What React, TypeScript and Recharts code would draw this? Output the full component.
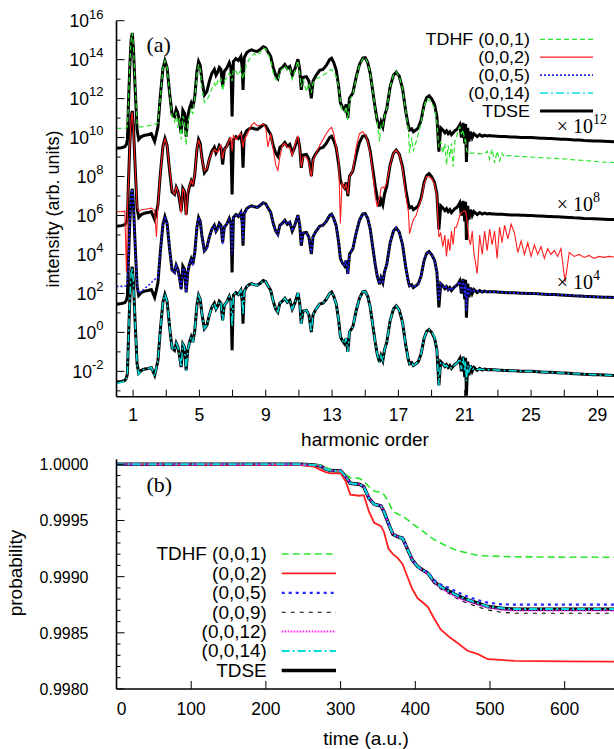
import React from 'react';
import { LineChart, Line, XAxis, YAxis, Legend } from 'recharts';

const SANS = '"Liberation Sans", Arial, Helvetica, sans-serif';
const SERIF = '"Liberation Serif", "Times New Roman", Times, serif';

// ---------------- panel (a): harmonic spectra (log10 of intensity, before offset) ----------------
const harm = [
  0, 0.3, 0.5, 0.6, 0.66, 0.72, 0.8, 0.88, 0.95, 1.02,
  1.12, 1.24, 1.34, 1.5, 1.7, 1.9, 2.1, 2.3, 2.41, 2.5,
  2.65, 2.8, 2.92, 3.05, 3.2, 3.35, 3.5, 3.6, 3.7, 3.8,
  3.9, 4.0, 4.1, 4.2, 4.3, 4.4, 4.5, 4.6, 4.72, 4.85,
  4.95, 5.05, 5.15, 5.3, 5.45, 5.6, 5.75, 5.9, 6.0, 6.1,
  6.2, 6.3, 6.4, 6.5, 6.65, 6.8, 6.9, 6.97, 7.05, 7.2,
  7.35, 7.5, 7.58, 7.63, 7.7, 7.85, 8.0, 8.15, 8.3, 8.5,
  8.7, 8.85, 9.0, 9.13, 9.3, 9.45, 9.6, 9.73, 9.85, 10.0,
  10.15, 10.3, 10.45, 10.6, 10.75, 10.94, 11.05, 11.14, 11.25, 11.45,
  11.6, 11.75, 11.85, 12.0, 12.25, 12.45, 12.65, 12.85, 12.97, 13.1,
  13.25, 13.4, 13.5, 13.6, 13.75, 13.85, 13.95, 14.05, 14.25, 14.45,
  14.65, 14.85, 15.0, 15.15, 15.3, 15.45, 15.6, 15.72, 15.86, 15.95,
  16.06, 16.16, 16.3, 16.5, 16.7, 16.87, 17.05, 17.25, 17.45, 17.6,
  17.67, 17.8, 17.9, 18.07, 18.2, 18.37, 18.55, 18.7, 18.85, 19.0,
  19.18, 19.32, 19.44, 19.55, 19.68, 19.8, 19.9, 20.0, 20.1, 20.2,
  20.3, 20.4, 20.5, 20.6, 20.7, 20.8, 20.9, 21.0, 21.05, 21.1,
  21.18, 21.25, 21.35, 21.45, 21.55, 21.75, 21.9, 22.05, 22.2, 22.35,
  22.5, 22.65, 22.8, 22.95, 23.1, 23.25, 23.4, 23.6, 23.8, 24.0,
  24.2, 24.4, 24.6, 24.8, 25.0, 25.2, 25.4, 25.6, 25.8, 26.0,
  26.2, 26.4, 26.6, 26.8, 27.05, 27.3, 27.6, 27.9, 28.2, 28.5,
  28.8, 29.1, 29.4, 29.7, 30.0,
];

const tdseLog = [
  -2.55, -2.52, -2.47, -2.35, -2.1, -0.3, 1.6, 3.0, 3.37, 2.6,
  0.6, -1.6, -2.1, -1.95, -1.88, -1.85, -1.8, -2.2, -1.8, -1.44,
  0.2, 1.55, 1.95, 1.6, 0.3, -0.8, -0.92, -0.55, -0.75, -1.2,
  -1.78, -0.6, -0.75, -1.95, -0.9, -0.5, -0.24, -0.5, 0.1, 1.4,
  1.9, 1.7, 0.96, 0.19, 0.36, 0.9, 1.3, 1.5, 1.2, 1.35,
  1.6, 1.5, 0.62, 1.4, 1.56, 1.85, 1.6, -0.92, 1.9, 2.05,
  1.95, 2.16, 1.6, 0.45, 2.1, 2.35, 2.45, 2.5, 2.45, 2.42,
  2.55, 2.66, 2.6, 2.4, 2.16, 1.6, 1.2, 1.04, 1.5, 1.6,
  1.75, 1.55, 1.65, 1.2, 1.5, 2.02, 1.5, 0.45, 1.1, 1.13,
  0.9, 0.02, 0.9, 1.15, 1.45, 1.5, 1.7, 2.0, 2.07, 1.85,
  1.47, 0.6, -0.2, -0.4, -0.58, -0.3, -1.0, 0.02, 0.28, 1.1,
  1.75, 2.08, 2.1, 1.85, 1.3, 0.4, -0.5, -1.1, -1.53, -1.2,
  -1.45, -0.9, -0.5, 0.6, 1.2, 1.36, 1.15, 0.5, -0.7, -1.4,
  -1.61, -1.55, -1.7, -1.6, -1.5, -1.1, -0.3, 0.05, 0.15, 0.0,
  -0.3, -0.9, -2.72, -1.5, -1.61, -1.75, -1.65, -1.8, -1.7, -1.85,
  -1.75, -1.65, -1.6, -1.5, -1.35, -2.0, -1.25, -2.3, -1.3, -3.25,
  -1.5, -2.2, -1.7, -2.0, -1.8, -1.95, -1.85, -1.93, -1.88, -1.92,
  -1.9, -1.92, -1.92, -1.93, -1.94, -1.94, -1.95, -1.96, -1.97, -1.97,
  -1.98, -1.99, -1.99, -2.0, -2.0, -2.01, -2.02, -2.03, -2.04, -2.05,
  -2.05, -2.06, -2.07, -2.08, -2.09, -2.1, -2.12, -2.13, -2.15, -2.16,
  -2.17, -2.18, -2.19, -2.2, -2.21,
];

const tdhf1Log = [
  -1.53, -1.53, -1.52, -1.5, -1.4, -0.2, 1.7, 3.0, 3.38, 2.7,
  0.8, -1.3, -1.45, -1.45, -1.42, -1.4, -1.36, -1.31, -1.3, -1.25,
  0.1, 1.55, 1.95, 1.6, 0.3, -0.9, -1.2, -0.7, -1.5, -1.0,
  -2.1, -0.9, -1.1, -2.4, -1.2, -0.9, -0.5, -0.8, 0.0, 1.2,
  1.75, 1.5, 0.5, -0.2, -0.1, 0.2, 0.5, 0.8, 0.6, 0.9,
  0.8, 1.0, 0.4, 0.9, 1.1, 1.3, 1.2, 0.9, 1.5, 1.4,
  1.2, 1.5, 1.1, 1.0, 1.3, 1.8, 2.0, 2.2, 2.3, 2.2,
  2.4, 2.6, 2.55, 2.3, 2.0, 1.3, 1.0, 0.9, 1.4, 1.5,
  1.7, 1.5, 1.6, 1.0, 1.4, 1.95, 1.3, 0.6, 1.0, 0.35,
  0.8, 0.3, 0.8, 1.0, 1.1, 1.2, 1.3, 1.45, 1.5, 1.35,
  1.12, 0.6, -0.1, -0.6, -0.7, -0.4, -1.1, -0.1, 0.2, 1.05,
  1.7, 2.05, 2.1, 1.85, 1.3, 0.4, -0.5, -1.2, -2.2, -1.3,
  -1.4, -0.9, -0.5, 0.6, 1.2, 1.38, 1.15, 0.5, -0.7, -1.6,
  -2.8, -2.0, -2.7, -2.2, -1.8, -1.2, -0.4, 0.0, -0.08, -0.2,
  -0.5, -1.2, -2.5, -2.2, -2.8, -2.3, -3.4, -2.4, -3.0, -2.3,
  -3.5, -2.2, -2.0, -1.6, -1.45, -1.8, -1.6, -2.2, -2.0, -2.6,
  -2.8, -2.85, -2.8, -2.8, -2.8, -2.82, -2.82, -2.83, -2.84, -2.7,
  -3.1, -2.6, -3.3, -2.7, -3.2, -2.8, -3.0, -2.92, -2.93, -2.95,
  -2.96, -2.97, -2.98, -2.99, -3.0, -3.01, -3.02, -3.03, -3.04, -3.05,
  -3.06, -3.07, -3.08, -3.09, -3.1, -3.12, -3.14, -3.16, -3.18, -3.2,
  -3.22, -3.24, -3.26, -3.27, -3.28,
];

const tdhf2Log = [
  -1.81, -1.8, -1.78, -4.9, -1.6, -0.4, 1.5, 2.9, 3.3, 2.5,
  0.6, -1.5, -1.8, -1.7, -1.68, -1.65, -1.62, -1.75, -3.1, -1.5,
  0.2, 1.5, 1.92, 1.6, 0.4, -0.7, -0.9, -0.5, -0.8, -1.1,
  -1.9, -0.6, -0.8, -2.0, -0.8, -0.5, -0.2, -0.4, 0.1, 1.4,
  1.88, 1.6, 0.9, 0.3, 0.4, 0.9, 1.2, 1.4, 1.3, 1.25,
  1.5, 1.6, 0.9, 1.4, 1.5, 1.9, 2.0, 1.3, 2.1, 1.9,
  2.1, 2.2, 1.8, 1.5, 1.9, 2.1, 2.4, 2.65, 2.76, 2.6,
  2.65, 2.7, 2.5, 1.52, 2.2, 1.4, 0.6, 0.33, 1.0, 1.6,
  1.7, 1.5, 1.5, 1.1, 1.6, 2.1, 1.4, 0.5, 1.0, 1.0,
  0.7, -0.02, 0.8, 1.1, 1.6, 1.9, 2.2, 2.45, 2.52, 2.2,
  1.5, 0.8, -2.41, -0.3, -0.6, -0.4, -0.9, 0.0, 0.3, 1.5,
  2.2, 2.3, 2.15, 1.8, 1.2, 0.2, -1.0, -1.56, -1.1, -0.6,
  -0.53, -0.6, -0.3, 0.6, 1.2, 1.36, 1.15, 0.4, -1.0, -1.8,
  -2.93, -2.5, -2.2, -2.0, -1.6, -1.2, -0.4, 0.0, -0.02, -0.1,
  -0.4, -1.0, -3.1, -2.9, -3.6, -3.0, -4.1, -3.2, -3.8, -2.8,
  -3.5, -2.6, -2.6, -2.3, -2.0, -1.85, -1.8, -1.75, -1.8, -2.0,
  -2.6, -3.2, -3.5, -2.8, -3.9, -4.98, -3.0, -4.0, -2.8, -3.8,
  -2.7, -3.5, -2.8, -4.2, -2.6, -3.4, -2.5, -3.2, -2.45, -2.9,
  -3.9, -3.3, -4.0, -3.4, -4.1, -3.5, -4.0, -3.6, -4.2, -3.7,
  -4.0, -3.8, -4.1, -3.7, -5.41, -3.9, -4.1, -4.0, -4.15, -4.05,
  -4.2, -4.1, -4.15, -4.1, -4.13,
];

const tdhf5Log = [
  -1.64, -1.64, -1.63, -1.6, -1.45, -0.3, 1.6, 3.0, 3.35, 2.6,
  0.6, -1.6, -2.0, -1.9, -1.75, -1.6, -1.45, -1.28, -1.22, -1.2,
  0.2, 1.55, 1.95, 1.6, 0.3, -0.8, -0.95, -0.55, -0.8, -1.3,
  -1.8, -0.7, -0.8, -1.95, -0.9, -0.5, -0.3, -0.5, 0.1, 1.4,
  1.9, 1.7, 0.95, 0.2, 0.35, 0.9, 1.3, 1.45, 1.2, 1.3,
  1.55, 1.5, 0.5, 1.4, 1.55, 1.8, 1.6, 0.0, 1.9, 2.0,
  1.95, 2.15, 1.5, 0.7, 2.1, 2.3, 2.45, 2.5, 2.45, 2.42,
  2.55, 2.65, 2.6, 2.4, 2.15, 1.6, 1.2, 1.0, 1.5, 1.6,
  1.75, 1.55, 1.65, 1.2, 1.5, 2.0, 1.5, 0.5, 1.1, 1.1,
  0.9, 0.05, 0.9, 1.15, 1.45, 1.5, 1.7, 2.0, 2.05, 1.85,
  1.45, 0.6, -0.2, -0.4, -0.6, -0.3, -1.0, 0.0, 0.3, 1.1,
  1.75, 2.08, 2.1, 1.85, 1.3, 0.4, -0.5, -1.1, -1.5, -1.2,
  -1.4, -0.9, -0.5, 0.6, 1.2, 1.36, 1.15, 0.5, -0.7, -1.4,
  -1.6, -1.55, -1.7, -1.6, -1.5, -1.1, -0.3, 0.05, 0.15, 0.0,
  -0.3, -0.9, -2.4, -1.5, -1.6, -1.75, -1.65, -1.8, -1.7, -1.85,
  -1.75, -1.65, -1.6, -1.5, -1.4, -1.9, -1.3, -2.1, -1.5, -2.9,
  -1.7, -2.0, -1.75, -1.95, -1.85, -1.9, -1.88, -1.9, -1.9, -1.91,
  -1.92, -1.92, -1.92, -1.93, -1.94, -1.94, -1.95, -1.96, -1.97, -1.97,
  -1.98, -1.99, -1.99, -2.0, -2.0, -2.01, -2.02, -2.03, -2.04, -2.05,
  -2.05, -2.06, -2.07, -2.08, -2.09, -2.1, -2.12, -2.13, -2.15, -2.16,
  -2.17, -2.18, -2.19, -2.2, -2.21,
];

const tdhf14Log = [
  -2.62, -2.56, -2.5, -2.38, -2.1, -0.3, 1.6, 3.0, 3.3, 2.6,
  0.6, -1.6, -2.15, -1.95, -1.88, -1.85, -1.8, -2.25, -1.8, -1.44,
  0.2, 1.55, 1.95, 1.6, 0.3, -0.8, -0.92, -0.55, -0.75, -1.2,
  -1.78, -0.6, -0.75, -1.95, -0.9, -0.5, -0.24, -0.5, 0.1, 1.4,
  1.9, 1.7, 0.96, 0.19, 0.36, 0.9, 1.3, 1.5, 1.2, 1.35,
  1.6, 1.5, 0.6, 1.4, 1.56, 1.85, 1.6, 0.3, 1.9, 2.05,
  1.95, 2.16, 1.6, 0.9, 2.1, 2.35, 2.45, 2.5, 2.45, 2.42,
  2.55, 2.66, 2.6, 2.4, 2.16, 1.6, 1.2, 1.04, 1.5, 1.6,
  1.75, 1.55, 1.65, 1.2, 1.5, 2.02, 1.5, 0.45, 1.1, 1.13,
  0.9, 0.02, 0.9, 1.15, 1.45, 1.5, 1.7, 2.0, 2.07, 1.85,
  1.47, 0.6, -0.2, -0.4, -0.58, -0.3, -1.0, 0.02, 0.28, 1.1,
  1.75, 2.08, 2.1, 1.85, 1.3, 0.4, -0.5, -1.1, -1.53, -1.2,
  -1.45, -0.9, -0.5, 0.6, 1.2, 1.36, 1.15, 0.5, -0.7, -1.4,
  -1.61, -1.55, -1.7, -1.6, -1.5, -1.1, -0.3, 0.05, 0.15, 0.05,
  -0.25, -0.9, -2.72, -1.5, -1.6, -1.75, -1.7, -1.8, -1.75, -1.85,
  -1.75, -1.65, -1.6, -1.5, -1.35, -1.9, -1.3, -2.0, -1.5, -2.5,
  -1.7, -2.0, -1.75, -1.95, -1.85, -1.9, -1.88, -1.9, -1.9, -1.9,
  -1.92, -1.92, -1.92, -1.93, -1.94, -1.94, -1.95, -1.96, -1.97, -1.97,
  -1.98, -1.99, -1.99, -2.0, -2.0, -2.01, -2.02, -2.03, -2.04, -2.05,
  -2.05, -2.06, -2.07, -2.08, -2.09, -2.1, -2.12, -2.13, -2.15, -2.16,
  -2.17, -2.18, -2.19, -2.2, -2.21,
];

// vertical offsets (powers of ten) of the four stacked pairs
const offset1 = 12;
const offset2 = 8;
const offset5 = 4;
const offset14 = 0;

const harmTicks = [1, 3, 5, 7, 9, 11, 13, 15, 17, 19, 21, 23, 25, 27, 29];
const harmLabelled = [1, 5, 9, 13, 17, 21, 25, 29];
const decadeExps = [-3, -2, -1, 0, 1, 2, 3, 4, 5, 6, 7, 8, 9, 10, 11, 12, 13, 14, 15, 16];

// ---------------- panel (b): ground-state probability ----------------
const timeAU = [0, 246, 264, 273, 280, 287, 300, 307, 313, 325, 331, 338, 345, 354, 358, 364, 370, 376, 383, 390, 396, 403, 410, 417, 425, 434, 446, 457, 470, 484, 497, 515, 533, 600, 666];

const probTDSE = [1.0, 1.0, 0.999994, 0.999985, 0.999956, 0.999944, 0.999941, 0.99989, 0.999831, 0.999822, 0.999801, 0.999697, 0.999644, 0.999629, 0.999579, 0.999475, 0.999377, 0.999356, 0.999342, 0.999238, 0.999149, 0.99909, 0.99906, 0.99903, 0.998956, 0.998911, 0.998867, 0.998828, 0.998793, 0.998763, 0.998734, 0.998719, 0.99871, 0.99871, 0.99871];
const probTDHF1 = [1.0, 1.0, 0.999997, 0.999994, 0.99997, 0.999955, 0.99993, 0.99991, 0.99988, 0.999875, 0.99985, 0.9998, 0.99976, 0.999752, 0.99973, 0.99967, 0.99958, 0.99956, 0.99954, 0.999505, 0.99947, 0.99944, 0.999405, 0.99937, 0.99933, 0.9993, 0.99926, 0.99923, 0.99921, 0.99919, 0.999184, 0.99918, 0.999177, 0.999173, 0.999172];
const probTDHF2 = [1.0, 0.999994, 0.99998, 0.99995, 0.99993, 0.99992, 0.99992, 0.999846, 0.99973, 0.99972, 0.999725, 0.999579, 0.99948, 0.99945, 0.9994, 0.99925, 0.9992, 0.99917, 0.99911, 0.99899, 0.99889, 0.998808, 0.99877, 0.99873, 0.99863, 0.99853, 0.99846, 0.998407, 0.99834, 0.99831, 0.998265, 0.998259, 0.99825, 0.998245, 0.998244];
const probTDHF5 = [1.0, 1.0, 0.999994, 0.999985, 0.999956, 0.999944, 0.999941, 0.99989, 0.999831, 0.999822, 0.999801, 0.999697, 0.999644, 0.999629, 0.999579, 0.999475, 0.999377, 0.999356, 0.999342, 0.999238, 0.999149, 0.99909, 0.99906, 0.99904, 0.99897, 0.99893, 0.998897, 0.99886, 0.998822, 0.99879, 0.998769, 0.998754, 0.998751, 0.998751, 0.998751];
const probTDHF9 = [1.0, 1.0, 0.999994, 0.999985, 0.999956, 0.999944, 0.999941, 0.99989, 0.999831, 0.999822, 0.999801, 0.999697, 0.999644, 0.999629, 0.999579, 0.999475, 0.999377, 0.999356, 0.999342, 0.999238, 0.999149, 0.99909, 0.99905, 0.99902, 0.998941, 0.99889, 0.998846, 0.9988, 0.998763, 0.99873, 0.998704, 0.998683, 0.998674, 0.998674, 0.998674];
const probTDHF12 = [1.0, 1.0, 0.999994, 0.999985, 0.999956, 0.999944, 0.999941, 0.99989, 0.999831, 0.999822, 0.999801, 0.999697, 0.999644, 0.999629, 0.999579, 0.999475, 0.999377, 0.999356, 0.999342, 0.999238, 0.999149, 0.99909, 0.999055, 0.999025, 0.99895, 0.9989, 0.998852, 0.99881, 0.998778, 0.99875, 0.998725, 0.998704, 0.998698, 0.998698, 0.998698];
const probTDHF14 = [1.0, 1.0, 0.999994, 0.999985, 0.999956, 0.999944, 0.999941, 0.99989, 0.999831, 0.999822, 0.999801, 0.999697, 0.999644, 0.999629, 0.999579, 0.999475, 0.999377, 0.999356, 0.999342, 0.999238, 0.999149, 0.99909, 0.99906, 0.99903, 0.998958, 0.998912, 0.998868, 0.998829, 0.998794, 0.998764, 0.998735, 0.99872, 0.998711, 0.998711, 0.998711];

const probTicks = [0.998, 0.9981, 0.9982, 0.9983, 0.9984, 0.9985, 0.9986, 0.9987, 0.9988, 0.9989, 0.999, 0.9991, 0.9992, 0.9993, 0.9994, 0.9995, 0.9996, 0.9997, 0.9998, 0.9999, 1.0];
const timeTicks = [0, 100, 200, 300, 400, 500, 600];

// ---------------- styles ----------------
const GREEN = '#2ee62e';
const RED = '#ff1f1f';
const BLUE = '#2323ff';
const CYAN = '#00dcdc';
const MAGENTA = '#ff1fff';
const BLACK = '#000000';
const AX = { stroke: '#000', strokeWidth: 1.6 };

const specPoints = (logs: number[], shift: number) =>
  harm.map((h, i) => ({ h, v: Math.pow(10, logs[i] + shift) }));
const probPoints = (vals: number[]) => timeAU.map((t, i) => ({ t, p: vals[i] }));

const decades = decadeExps.map((e) => Math.pow(10, e));

const legendA = [
  { name: 'TDHF (0,0,1)', color: GREEN, width: 1.2, dash: '5 3' },
  { name: '(0,0,2)', color: RED, width: 1.2, dash: undefined },
  { name: '(0,0,5)', color: BLUE, width: 1.6, dash: '2 2' },
  { name: '(0,0,14)', color: CYAN, width: 1.4, dash: '8 3 2 3' },
  { name: 'TDSE', color: BLACK, width: 3, dash: undefined },
];

const legendB = [
  { name: 'TDHF (0,0,1)', color: GREEN, width: 1.6, dash: '7 4' },
  { name: '(0,0,2)', color: RED, width: 1.8, dash: undefined },
  { name: '(0,0,5)', color: BLUE, width: 2.2, dash: '3 4' },
  { name: '(0,0,9)', color: BLACK, width: 1.1, dash: '4 5' },
  { name: '(0,0,12)', color: MAGENTA, width: 2, dash: '1.5 1.5' },
  { name: '(0,0,14)', color: CYAN, width: 2, dash: '8 3 2 3' },
  { name: 'TDSE', color: BLACK, width: 3.5, dash: undefined },
];

// ---------------- tick renderers (gnuplot-style inward ticks) ----------------
const LogTickLeft = (p: any) => {
  const { x, y, payload } = p;
  const e = Math.round(Math.log10(payload.value));
  const major = e % 2 === 0;
  return (
    <g>
      <line x1={x} y1={y} x2={x + (major ? 8 : 4)} y2={y} stroke="#000" strokeWidth={1} />
      {major && (
        <text x={x - 13} y={y + 6.3} textAnchor="end" fontFamily={SANS} fontSize={17.5} fill="#000">
          10<tspan dy={-8.5} fontSize={13}>{e}</tspan>
        </text>
      )}
    </g>
  );
};

const LogTickRight = (p: any) => {
  const { x, y, payload } = p;
  const e = Math.round(Math.log10(payload.value));
  const major = e % 2 === 0;
  return <line x1={x} y1={y} x2={x - (major ? 8 : 4)} y2={y} stroke="#000" strokeWidth={1} />;
};

const HarmTickBottom = (p: any) => {
  const { x, y, payload } = p;
  const v = payload.value;
  return (
    <g>
      <line x1={x} y1={y} x2={x} y2={y - 7} stroke="#000" strokeWidth={1} />
      {harmLabelled.includes(v) && (
        <text x={x} y={y + 24.5} textAnchor="middle" fontFamily={SANS} fontSize={17.5} fill="#000">
          {v}
        </text>
      )}
    </g>
  );
};

const HarmTickTop = (p: any) => {
  const { x, y } = p;
  return <line x1={x} y1={y} x2={x} y2={y + 7} stroke="#000" strokeWidth={1} />;
};

const isMajorProb = (v: number) => Math.abs(v * 2000 - Math.round(v * 2000)) < 1e-6;

const ProbTickLeft = (p: any) => {
  const { x, y, payload } = p;
  const v = payload.value;
  const major = isMajorProb(v);
  return (
    <g>
      <line x1={x} y1={y} x2={x + (major ? 8 : 4)} y2={y} stroke="#000" strokeWidth={1} />
      {major && (
        <text x={x - 28} y={y + 6} textAnchor="end" fontFamily={SANS} fontSize={16} fill="#000">
          {v.toFixed(4)}
        </text>
      )}
    </g>
  );
};

const ProbTickRight = (p: any) => {
  const { x, y, payload } = p;
  const major = isMajorProb(payload.value);
  return <line x1={x} y1={y} x2={x - (major ? 8 : 4)} y2={y} stroke="#000" strokeWidth={1} />;
};

const TimeTickBottom = (p: any) => {
  const { x, y, payload } = p;
  const v = payload.value;
  return (
    <g>
      <line x1={x} y1={y} x2={x} y2={y - 8} stroke="#000" strokeWidth={1} />
      <text x={v === 0 ? x + 5 : x} y={y + 25.5} textAnchor="middle" fontFamily={SANS} fontSize={17.5} fill="#000">
        {v}
      </text>
    </g>
  );
};

const TimeTickTop = (p: any) => {
  const { x, y } = p;
  return <line x1={x} y1={y} x2={x} y2={y + 8} stroke="#000" strokeWidth={1} />;
};

// ---------------- legends ----------------
const renderLegend = (
  items: typeof legendA,
  w: number,
  h: number,
  y0: number,
  dy: number,
  textRight: number,
  lx1: number,
  lx2: number,
  fs: number,
  stretch: number
) => () => (
  <svg width={w} height={h} style={{ display: 'block' }}>
    {items.map((it, i) => {
      const yc = y0 + i * dy;
      return (
        <g key={it.name}>
          <g transform={`translate(${textRight} ${yc + fs * 0.36}) scale(${stretch} 1)`}>
            <text x={0} y={0} textAnchor="end" fontFamily={SANS} fontSize={fs} fill="#000">
              {it.name}
            </text>
          </g>
          <line x1={lx1} x2={lx2} y1={yc} y2={yc} stroke={it.color} strokeWidth={it.width} strokeDasharray={it.dash} />
        </g>
      );
    })}
  </svg>
);

export default function App() {
  const a1 = specPoints(tdhf1Log, offset1);
  const a2 = specPoints(tdhf2Log, offset2);
  const a5 = specPoints(tdhf5Log, offset5);
  const a14 = specPoints(tdhf14Log, offset14);
  const t1 = specPoints(tdseLog, offset1);
  const t2 = specPoints(tdseLog, offset2);
  const t5 = specPoints(tdseLog, offset5);
  const t14 = specPoints(tdseLog, offset14);

  const common = { dot: false, isAnimationActive: false, type: 'linear' as const, xAxisId: 'b', yAxisId: 'l' };

  return (
    <div style={{ position: 'absolute', left: 0, top: 0, width: 614, height: 749, background: '#fff', overflow: 'hidden' }}>
      {/* ---------- panel (a) ---------- */}
      <div style={{ position: 'absolute', left: 0, top: 0 }}>
        <LineChart width={614} height={430} margin={{ top: 20.7, right: 0, bottom: 3.3, left: 0.5 }}>
          <XAxis xAxisId="b" dataKey="h" type="number" domain={[0, 30]} allowDataOverflow ticks={harmTicks} interval={0}
            tick={HarmTickBottom} tickSize={0} tickMargin={0} height={30} axisLine={AX} tickLine={false} />
          <XAxis xAxisId="t" orientation="top" dataKey="h" type="number" domain={[0, 30]} allowDataOverflow ticks={harmTicks} interval={0}
            tick={HarmTickTop} tickSize={0} tickMargin={0} height={0} axisLine={AX} tickLine={false} />
          <YAxis yAxisId="l" type="number" scale="log" domain={[5e-4, 1e16]} allowDataOverflow ticks={decades} interval={0}
            tick={LogTickLeft} tickSize={0} tickMargin={0} width={116} axisLine={AX} tickLine={false} />
          <YAxis yAxisId="r" orientation="right" type="number" scale="log" domain={[5e-4, 1e16]} allowDataOverflow ticks={decades} interval={0}
            tick={LogTickRight} tickSize={0} tickMargin={0} width={0} axisLine={AX} tickLine={false} />
          <Line {...common} data={t1} dataKey="v" stroke={BLACK} strokeWidth={3} name="TDSE" />
          <Line {...common} data={t2} dataKey="v" stroke={BLACK} strokeWidth={3} name="TDSE x1e8" legendType="none" />
          <Line {...common} data={t5} dataKey="v" stroke={BLACK} strokeWidth={3} name="TDSE x1e4" legendType="none" />
          <Line {...common} data={t14} dataKey="v" stroke={BLACK} strokeWidth={3} name="TDSE x1" legendType="none" />
          <Line {...common} data={a1} dataKey="v" stroke={GREEN} strokeWidth={1.2} strokeDasharray="5 3" name="TDHF (0,0,1)" />
          <Line {...common} data={a2} dataKey="v" stroke={RED} strokeWidth={1.1} name="(0,0,2)" />
          <Line {...common} data={a5} dataKey="v" stroke={BLUE} strokeWidth={1.6} strokeDasharray="2 2" name="(0,0,5)" />
          <Line {...common} data={a14} dataKey="v" stroke={CYAN} strokeWidth={1.5} strokeDasharray="8 3 2 3" name="(0,0,14)" />
          <Legend layout="vertical" align="center" verticalAlign="middle"
            wrapperStyle={{ position: 'absolute', left: 0, top: 0, width: 614, height: 430, pointerEvents: 'none' }}
            content={renderLegend(legendA, 614, 430, 39.3, 17.9, 530, 540, 593, 16, 1.12)} />
        </LineChart>
      </div>

      {/* ---------- panel (b) ---------- */}
      <div style={{ position: 'absolute', left: 0, top: 440 }}>
        <LineChart width={614} height={309} margin={{ top: 19.3, right: 0, bottom: 30, left: 0.5 }}>
          <XAxis xAxisId="b" dataKey="t" type="number" domain={[0, 666]} allowDataOverflow ticks={timeTicks} interval={0}
            tick={TimeTickBottom} tickSize={0} tickMargin={0} height={30} axisLine={AX} tickLine={false} />
          <XAxis xAxisId="t" orientation="top" dataKey="t" type="number" domain={[0, 666]} allowDataOverflow ticks={timeTicks} interval={0}
            tick={TimeTickTop} tickSize={0} tickMargin={0} height={0} axisLine={AX} tickLine={false} />
          <YAxis yAxisId="l" type="number" domain={[0.998, 1.0000445]} allowDataOverflow ticks={probTicks} interval={0}
            tick={ProbTickLeft} tickSize={0} tickMargin={0} width={116} axisLine={AX} tickLine={false} />
          <YAxis yAxisId="r" orientation="right" type="number" domain={[0.998, 1.0000445]} allowDataOverflow ticks={probTicks} interval={0}
            tick={ProbTickRight} tickSize={0} tickMargin={0} width={0} axisLine={AX} tickLine={false} />
          <Line {...common} data={probPoints(probTDSE)} dataKey="p" stroke={BLACK} strokeWidth={3.5} name="TDSE" />
          <Line {...common} data={probPoints(probTDHF1)} dataKey="p" stroke={GREEN} strokeWidth={1.6} strokeDasharray="7 4" name="TDHF (0,0,1)" />
          <Line {...common} data={probPoints(probTDHF2)} dataKey="p" stroke={RED} strokeWidth={1.8} name="(0,0,2)" />
          <Line {...common} data={probPoints(probTDHF5)} dataKey="p" stroke={BLUE} strokeWidth={2.2} strokeDasharray="3 4" name="(0,0,5)" />
          <Line {...common} data={probPoints(probTDHF9)} dataKey="p" stroke={BLACK} strokeWidth={1.1} strokeDasharray="4 5" name="(0,0,9)" />
          <Line {...common} data={probPoints(probTDHF12)} dataKey="p" stroke={MAGENTA} strokeWidth={2} strokeDasharray="1.5 1.5" name="(0,0,12)" />
          <Line {...common} data={probPoints(probTDHF14)} dataKey="p" stroke={CYAN} strokeWidth={2} strokeDasharray="8 3 2 3" name="(0,0,14)" />
          <Legend layout="vertical" align="center" verticalAlign="middle"
            wrapperStyle={{ position: 'absolute', left: 0, top: 0, width: 614, height: 309, pointerEvents: 'none' }}
            content={renderLegend(legendB, 614, 309, 114, 19.4, 266.7, 281.7, 336, 17.5, 1.08)} />
        </LineChart>
      </div>

      {/* ---------- titles and annotations ---------- */}
      <svg width={614} height={749} style={{ position: 'absolute', left: 0, top: 0, pointerEvents: 'none' }}>
        <text x={58.5} y={209} transform="rotate(-90 58.5 209)" textAnchor="middle" fontFamily={SANS} fontSize={18} fill="#000">
          intensity (arb. units)
        </text>
        <text x={365} y={446} textAnchor="middle" fontFamily={SANS} fontSize={19} fill="#000">harmonic order</text>
        <text x={22} y={573} transform="rotate(-90 22 573)" textAnchor="middle" fontFamily={SANS} fontSize={19} fill="#000">
          probability
        </text>
        <text x={366} y={745} textAnchor="middle" fontFamily={SANS} fontSize={19} fill="#000">time (a.u.)</text>
        <text x={146.5} y={51.6} fontFamily={SERIF} fontSize={22} fill="#000">(a)</text>
        <text x={146.5} y={491.6} fontFamily={SERIF} fontSize={22} fill="#000">(b)</text>
        {[offset1, offset2, offset5].map((e, i) => (
          <text key={e} x={556.7} y={133.3 + i * 77.9} fontFamily={SERIF} fontSize={20} fill="#000">
            × 10<tspan dy={-9} fontSize={14}>{e}</tspan>
          </text>
        ))}
      </svg>
    </div>
  );
}
